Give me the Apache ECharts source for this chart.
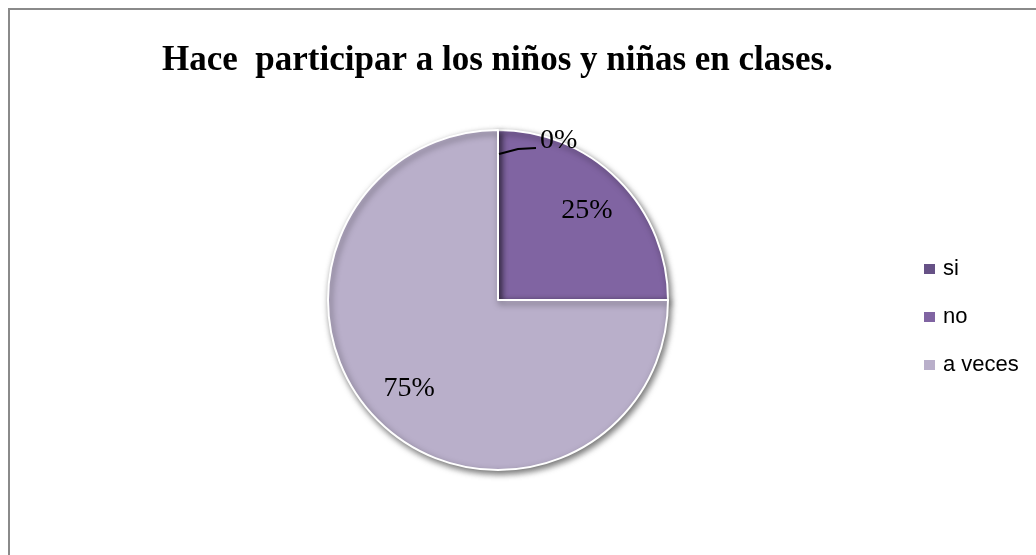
<!DOCTYPE html>
<html>
<head>
<meta charset="utf-8">
<script src="https://cdn.jsdelivr.net/npm/echarts@6/dist/echarts.min.js"></script>
<style>
  html, body { margin: 0; padding: 0; background: #fff; }
  #chart { width: 1036px; height: 555px; }
</style>
</head>
<body>
<div id="chart"></div>
<script>
// datos del gráfico
var categorias = ['si', 'no', 'a veces']
var porcentajes = [0, 25, 75]
var colores = ['#665186', '#8064a2', '#b9afca']

var centro = [498, 300]
var radio = 170

var chart = echarts.init(document.getElementById('chart'))

// ángulo medio de cada porción (grados desde las 12, sentido horario)
var total = porcentajes.reduce(function (a, b) { return a + b }, 0)
var acum = 0
var angMedio = porcentajes.map(function (v) {
  var m = (acum + v / 2) / total * 360
  acum += v
  return m
})

// línea guía de la etiqueta del 0%, pegada al borde superior del pastel
var yTop = centro[1] - radio
var lineaCero = [
  [centro[0] + 1, yTop + 24],
  [centro[0] + 20, yTop + 19],
  [centro[0] + 38, yTop + 18]
]

chart.setOption({
  animation: false,
  backgroundColor: '#fff',
  title: {
    text: 'Hace  participar a los niños y niñas en clases.',
    left: 157,
    top: 38,
    textStyle: {
      fontFamily: 'Liberation Serif',
      fontWeight: 'bold',
      fontSize: 35,
      color: '#000'
    }
  },
  legend: {
    orient: 'vertical',
    left: 922,
    top: 258,
    padding: 0,
    itemWidth: 13,
    itemHeight: 12,
    itemGap: 26,
    icon: 'rect',
    data: categorias,
    textStyle: {
      fontFamily: 'Liberation Sans',
      fontSize: 22,
      lineHeight: 22,
      color: '#000',
      padding: [0, 0, 0, 2]
    }
  },
  graphic: [{
    type: 'rect',
    shape: { x: 9, y: 9, width: 1100, height: 600 },
    style: { fill: 'none', stroke: '#8a8a8a', lineWidth: 2 },
    silent: true
  }, {
    type: 'polyline',
    shape: { points: lineaCero },
    style: { fill: 'none', stroke: '#000', lineWidth: 2 },
    z: 10,
    silent: true
  }],
  series: [{
    type: 'pie',
    center: centro,
    radius: radio,
    startAngle: 90,
    clockwise: true,
    avoidLabelOverlap: false,
    label: {
      show: true,
      position: 'outside',
      formatter: '{d}%',
      color: '#000',
      fontFamily: 'Liberation Serif',
      fontSize: 28
    },
    labelLine: { show: false },
    labelLayout: function (p) {
      var i = p.dataIndex
      if (porcentajes[i] === 0) {
        return {
          x: centro[0] + 42,
          y: yTop + 11,
          align: 'left',
          verticalAlign: 'middle'
        }
      }
      var a = angMedio[i] * Math.PI / 180
      return {
        x: centro[0] + 0.74 * radio * Math.sin(a),
        y: centro[1] - 0.74 * radio * Math.cos(a),
        align: 'center',
        verticalAlign: 'middle'
      }
    },
    itemStyle: {
      borderColor: '#fff',
      borderWidth: 2,
      shadowBlur: 6,
      shadowOffsetX: 2,
      shadowOffsetY: 3,
      shadowColor: 'rgba(0,0,0,0.55)'
    },
    emphasis: { disabled: true },
    data: categorias.map(function (nombre, i) {
      return {
        name: nombre,
        value: porcentajes[i],
        itemStyle: { color: colores[i] }
      }
    })
  }]
})
</script>
</body>
</html>
